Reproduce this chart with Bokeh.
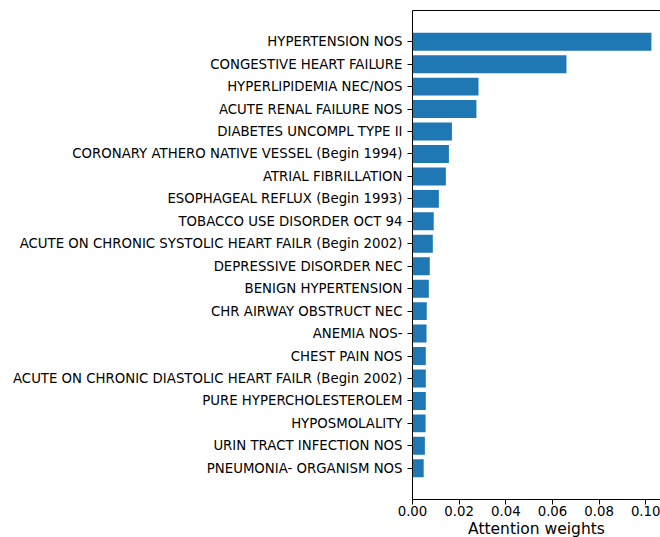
from bokeh.plotting import figure
from bokeh.models import FactorRange, Range1d, FixedTicker, PrintfTickFormatter, LinearAxis, ColumnDataSource
from bokeh.embed import file_html
from bokeh.resources import INLINE

# Data (top to bottom as in the reference)
diagnoses = [
    "HYPERTENSION NOS",
    "CONGESTIVE HEART FAILURE",
    "HYPERLIPIDEMIA NEC/NOS",
    "ACUTE RENAL FAILURE NOS",
    "DIABETES UNCOMPL TYPE II",
    "CORONARY ATHERO NATIVE VESSEL (Begin 1994)",
    "ATRIAL FIBRILLATION",
    "ESOPHAGEAL REFLUX (Begin 1993)",
    "TOBACCO USE DISORDER OCT 94",
    "ACUTE ON CHRONIC SYSTOLIC HEART FAILR (Begin 2002)",
    "DEPRESSIVE DISORDER NEC",
    "BENIGN HYPERTENSION",
    "CHR AIRWAY OBSTRUCT NEC",
    "ANEMIA NOS-",
    "CHEST PAIN NOS",
    "ACUTE ON CHRONIC DIASTOLIC HEART FAILR (Begin 2002)",
    "PURE HYPERCHOLESTEROLEM",
    "HYPOSMOLALITY",
    "URIN TRACT INFECTION NOS",
    "PNEUMONIA- ORGANISM NOS",
]
weights = [0.1024, 0.0660, 0.0283, 0.0274, 0.0169, 0.0156, 0.0143, 0.0113,
           0.0091, 0.0087, 0.0074, 0.0070, 0.0061, 0.0060, 0.0057, 0.0057,
           0.0057, 0.0056, 0.0053, 0.0048]
x_ticks = [0.0, 0.02, 0.04, 0.06, 0.08, 0.10]
x_label = "Attention weights"

FONT = "DejaVu Sans"
factors = diagnoses[::-1]  # bottom-first
src = ColumnDataSource(dict(y=diagnoses, w=weights))

p = figure(width=660, height=545, output_backend="svg", toolbar_location=None,
           y_range=FactorRange(factors=factors, range_padding=0.089),
           x_range=Range1d(0, 0.1063),
           min_border_left=412, min_border_right=0, min_border_top=10, min_border_bottom=46)
p.hbar(y="y", right="w", left=0, height=0.8, source=src, color="#1f77b4", line_color=None)

p.outline_line_color = None
p.grid.visible = False
p.background_fill_color = "white"
p.border_fill_color = "white"

for ax in (p.xaxis[0], p.yaxis[0]):
    ax.axis_line_color = "black"
    ax.axis_line_width = 1
    ax.major_tick_line_color = "black"
    ax.major_tick_out = 5
    ax.major_tick_in = 0
    ax.minor_tick_line_color = None
    ax.major_label_text_font = FONT
    ax.major_label_text_font_size = "13.3px"
    ax.major_label_text_color = "black"
    ax.major_label_standoff = 5

p.xaxis[0].major_label_standoff = 1
p.xaxis[0].ticker = FixedTicker(ticks=x_ticks)
p.xaxis[0].formatter = PrintfTickFormatter(format="%.2f")
p.xaxis[0].axis_label = x_label
p.xaxis[0].axis_label_text_font = FONT
p.xaxis[0].axis_label_text_font_size = "15.5px"
p.xaxis[0].axis_label_text_font_style = "normal"
p.xaxis[0].axis_label_text_color = "black"
p.xaxis[0].axis_label_standoff = 1

top = LinearAxis(ticker=FixedTicker(ticks=x_ticks), axis_line_color="black", axis_line_width=1,
                 major_tick_line_color=None, minor_tick_line_color=None,
                 major_tick_out=0, major_tick_in=0, major_label_standoff=0,
                 major_label_text_font_size="1px", major_label_text_alpha=0)
p.add_layout(top, "above")

open("out.html", "w").write(file_html(p, INLINE))
